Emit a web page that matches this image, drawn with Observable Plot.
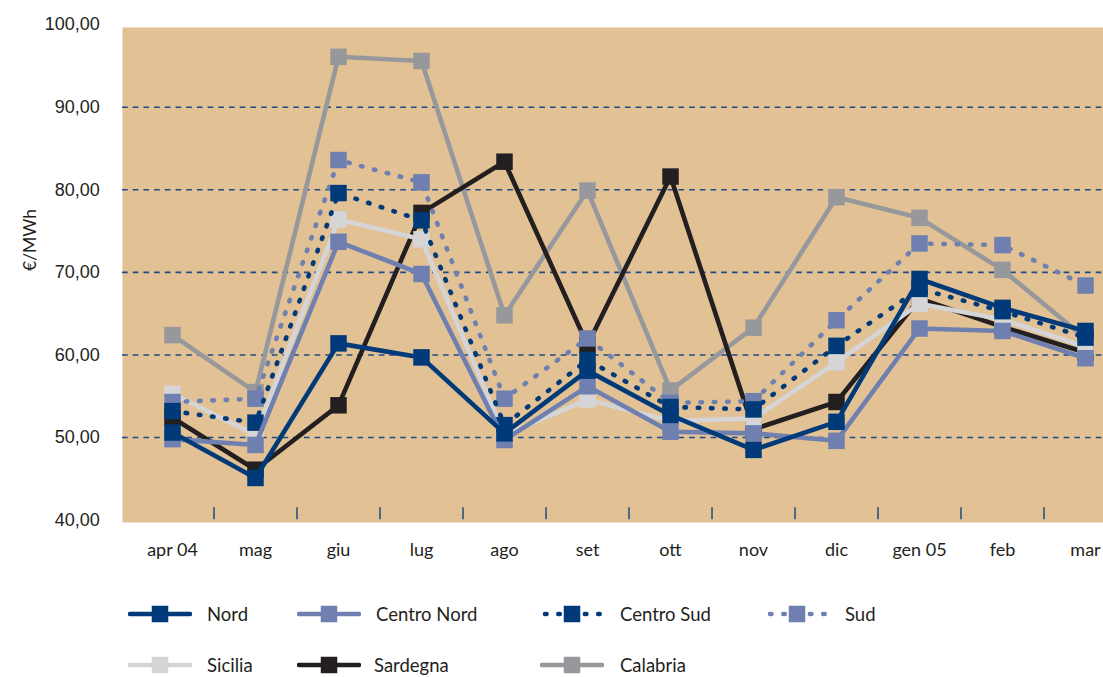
<!DOCTYPE html>
<html>
<head>
<meta charset="utf-8">
<script src="https://cdn.jsdelivr.net/npm/d3@7"></script>
<script src="https://cdn.jsdelivr.net/npm/@observablehq/plot@0.6"></script>
<style>
  body { margin: 0; background: #fff; width: 1103px; height: 677px; overflow: hidden; position: relative; color: #231f20; }
  #chart svg { display: block; }
  g[aria-label^="x-axis"] text { font-family: Lato, sans-serif; font-size: 18px; fill: #231f20; }
  g[aria-label^="y-axis"] text { font-family: "Liberation Sans", Arial, sans-serif; font-size: 18px; fill: #231f20; }
  .lg-swatch { position: absolute; }
  .lg-label { position: absolute; font-family: Lato, sans-serif; font-size: 18.5px; line-height: 1; transform: translateY(-50%); white-space: nowrap; color: #231f20; }
</style>
</head>
<body>
<div id="chart"></div>
<div id="legend"></div>
<script>
// Monthly zonal prices, April 2004 – March 2005 (€/MWh)
const months = ["apr 04", "mag", "giu", "lug", "ago", "set", "ott", "nov", "dic", "gen 05", "feb", "mar"];

const nord       = [50.6, 45.1, 61.4, 59.7, 50.5, 58.1, 52.7, 48.5, 51.9, 69.2, 65.7, 62.9];
const centroNord = [49.8, 49.1, 73.7, 69.8, 49.7, 56.2, 50.7, 50.5, 49.6, 63.2, 62.9, 59.6];
const centroSud  = [53.2, 51.8, 79.6, 76.3, 51.5, 59.4, 53.7, 53.4, 61.1, 68.0, 65.3, 62.1];
const sud        = [54.3, 54.7, 83.6, 80.9, 54.7, 62.0, 54.2, 54.4, 64.2, 73.5, 73.3, 68.4];
const sicilia    = [55.3, 50.3, 76.4, 74.0, 50.3, 54.6, 52.0, 52.3, 59.1, 66.2, 64.3, 61.0];
const sardegna   = [52.4, 46.1, 53.9, 77.2, 83.4, 61.2, 81.6, 51.0, 54.3, 66.8, 63.4, 60.3];
const calabria   = [62.4, 55.5, 96.1, 95.6, 64.8, 79.9, 55.7, 63.3, 79.1, 76.6, 70.3, 62.0];

const yTicks = [40, 50, 60, 70, 80, 90, 100];
const gridValues = [50, 60, 70, 80, 90];

const NAVY = "#003a78", PERIWINKLE = "#6f80b0";

// Drawn from the bottom layer up, so Nord ends on top
const series = [
  { name: "Calabria",    values: calabria,   color: "#97989b", dotted: false },
  { name: "Sardegna",    values: sardegna,   color: "#231f20", dotted: false },
  { name: "Sicilia",     values: sicilia,    color: "#d5d5d7", dotted: false },
  { name: "Sud",         values: sud,        color: PERIWINKLE, dotted: true },
  { name: "Centro Sud",  values: centroSud,  color: NAVY,      dotted: true },
  { name: "Centro Nord", values: centroNord, color: PERIWINKLE, dotted: false },
  { name: "Nord",        values: nord,       color: NAVY,      dotted: false }
];

const DOTS = "1.5,11.8";
const fmt = d => d.toFixed(2).replace(".", ",");
const step = (1085 - 171.7) / (months.length - 1);

const seriesMarks = series.flatMap(s => {
  const rows = months.map((m, i) => ({ month: m, value: s.values[i] }));
  return [
    Plot.line(rows, {
      x: "month", y: "value", stroke: s.color, strokeWidth: 4.6,
      strokeDasharray: s.dotted ? DOTS : null,
      strokeLinecap: s.dotted ? "round" : "butt",
      strokeLinejoin: "round"
    }),
    Plot.dot(rows, { x: "month", y: "value", symbol: "square", r: 9.3, fill: s.color, stroke: "none" })
  ];
});

const chart = Plot.plot({
  width: 1103,
  height: 580,
  marginLeft: 122,
  marginRight: 0,
  marginTop: 27,
  marginBottom: 58,
  style: { fontFamily: "'Liberation Sans', Arial, sans-serif", fontSize: "18px", color: "#231f20", background: "transparent" },
  x: { type: "point", domain: months, range: [171.7, 1085], padding: 0, tickSize: 0, tickPadding: 21, label: null },
  y: { domain: [40, 100], range: [519.6, 24.1], ticks: yTicks, tickSize: 0, tickPadding: 22.7, tickFormat: fmt, label: null },
  marks: [
    Plot.frame({ fill: "#e2c195", stroke: "none" }),
    Plot.ruleY(gridValues, { stroke: "#1e4a86", strokeWidth: 1.6, strokeDasharray: "5.7,5" }),
    Plot.ruleX(months.slice(0, -1), { dx: step / 2, y1: 40.05, y2: 41.5, stroke: "#1e4a86", strokeWidth: 1.5 }),
    ...seriesMarks,
    Plot.text(["€/MWh"], { frameAnchor: "left", dx: -92, dy: -4, rotate: -90, fontFamily: "Lato, sans-serif", fontSize: 17.5, fill: "#231f20" })
  ]
});
document.getElementById("chart").appendChild(chart);

// Legend below the plot: line swatch with a square marker, then the zone name
const legendLayout = [
  { name: "Nord",        x: 128, tx: 207, y: 614 },
  { name: "Centro Nord", x: 297, tx: 376, y: 614 },
  { name: "Centro Sud",  x: 540, tx: 620, y: 614 },
  { name: "Sud",         x: 765, tx: 845, y: 614 },
  { name: "Sicilia",     x: 128, tx: 207, y: 665 },
  { name: "Sardegna",    x: 297, tx: 374, y: 665 },
  { name: "Calabria",    x: 540, tx: 620, y: 665 }
];
const legend = d3.select("#legend");
for (const item of legendLayout) {
  const s = series.find(d => d.name === item.name);
  const sw = legend.append("svg").attr("class", "lg-swatch")
    .attr("width", 64).attr("height", 20)
    .style("left", item.x + "px").style("top", (item.y - 10) + "px");
  sw.append("line")
    .attr("x1", s.dotted ? 5 : 2).attr("x2", 62).attr("y1", 10).attr("y2", 10)
    .attr("stroke", s.color).attr("stroke-width", 4.6)
    .attr("stroke-linecap", "round")
    .attr("stroke-dasharray", s.dotted ? DOTS : null);
  sw.append("rect").attr("x", 32 - 8.25).attr("y", 10 - 8.25).attr("width", 16.5).attr("height", 16.5).attr("fill", s.color);
  legend.append("div").attr("class", "lg-label")
    .style("left", item.tx + "px").style("top", item.y + "px")
    .text(item.name);
}
</script>
</body>
</html>
